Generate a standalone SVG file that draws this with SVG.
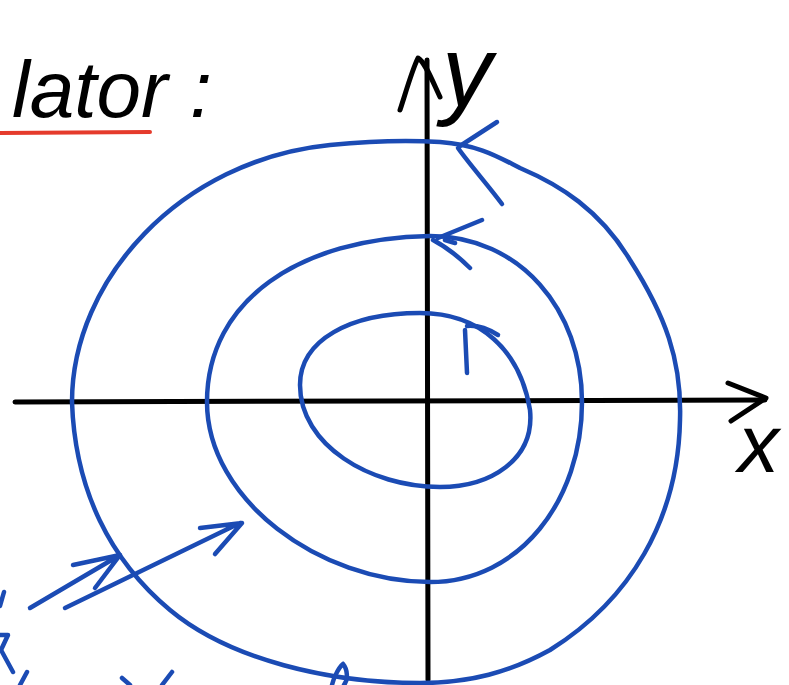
<svg xmlns="http://www.w3.org/2000/svg" width="789" height="685" viewBox="0 0 789 685">
<style>
.ink{fill:none;stroke:#000;stroke-width:5;stroke-linecap:round;stroke-linejoin:round}
.blue{fill:none;stroke:#1b4bb4;stroke-width:4.5;stroke-linecap:round;stroke-linejoin:round}
.hand{font-family:"Liberation Sans",Arial,sans-serif;font-style:italic;fill:#000}
</style>
<rect width="789" height="685" fill="#fff"/>
<g id="title">
<text class="hand" x="12" y="117" font-size="80">lator :</text>
<path d="M0,133 L150,132" fill="none" stroke="#e53b2c" stroke-width="4" stroke-linecap="round"/>
</g>
<g id="axes">
<path class="ink" d="M15,402 L765,400"/>
<path class="ink" d="M728,383 L766,398 L731,421"/>
<path class="ink" d="M428,680 L427,60"/>
<path class="ink" d="M400,110 C405,95 412,70 418,58 C425,62 432,80 440,97"/>
<text class="hand" x="442" y="106" font-size="100">y</text>
<text class="hand" x="738" y="472" font-size="82">x</text>
</g>
<g id="orbit-outer">
<path class="blue" d="M72,402 C72,280 180,160 330,145 C380,140 410,140 440,142 C480,145 500,158 520,168 C560,185 600,210 630,260 C665,315 682,360 680,420 C678,520 630,600 550,650 C510,672 470,683 420,683 C330,683 230,660 170,610 C110,560 75,490 72,402 Z"/>
<path class="blue" d="M497,122 L460,146 M458,148 C470,165 488,185 502,204"/>
</g>
<g id="orbit-middle">
<path class="blue" d="M207,402 C207,300 300,238 430,236 C520,236 582,310 582,402 C582,500 520,582 430,582 C320,582 207,500 207,402 Z"/>
<path class="blue" d="M482,220 L438,238 M433,240 C448,248 460,258 470,268 M445,240 L455,243"/>
</g>
<g id="orbit-inner">
<path class="blue" d="M300,385 C300,340 350,313 420,313 C480,313 520,350 530,410 C535,460 490,487 440,487 C370,487 300,445 300,385 Z"/>
<path class="blue" d="M467,326 C478,325 490,330 498,335 M465,330 L467,373"/>
</g>
<g id="connectors">
<path class="blue" d="M30,608 L120,555 M73,565 L120,555 L95,588"/>
<path class="blue" d="M65,608 L240,523 M200,528 L242,523 L215,554"/>
</g>
<g id="fragments">
<path class="blue" d="M4,592 L0,606"/>
<path class="blue" d="M0,635 L8,635 L1,650 L13,672"/>
<path class="blue" d="M27,672 L20,685"/>
<path class="blue" d="M122,678 L130,685"/>
<path class="blue" d="M172,672 L162,685"/>
<path class="blue" d="M343,664 C338,668 333,680 332,685 M343,664 C348,670 348,680 344,685"/>
</g>
</svg>
